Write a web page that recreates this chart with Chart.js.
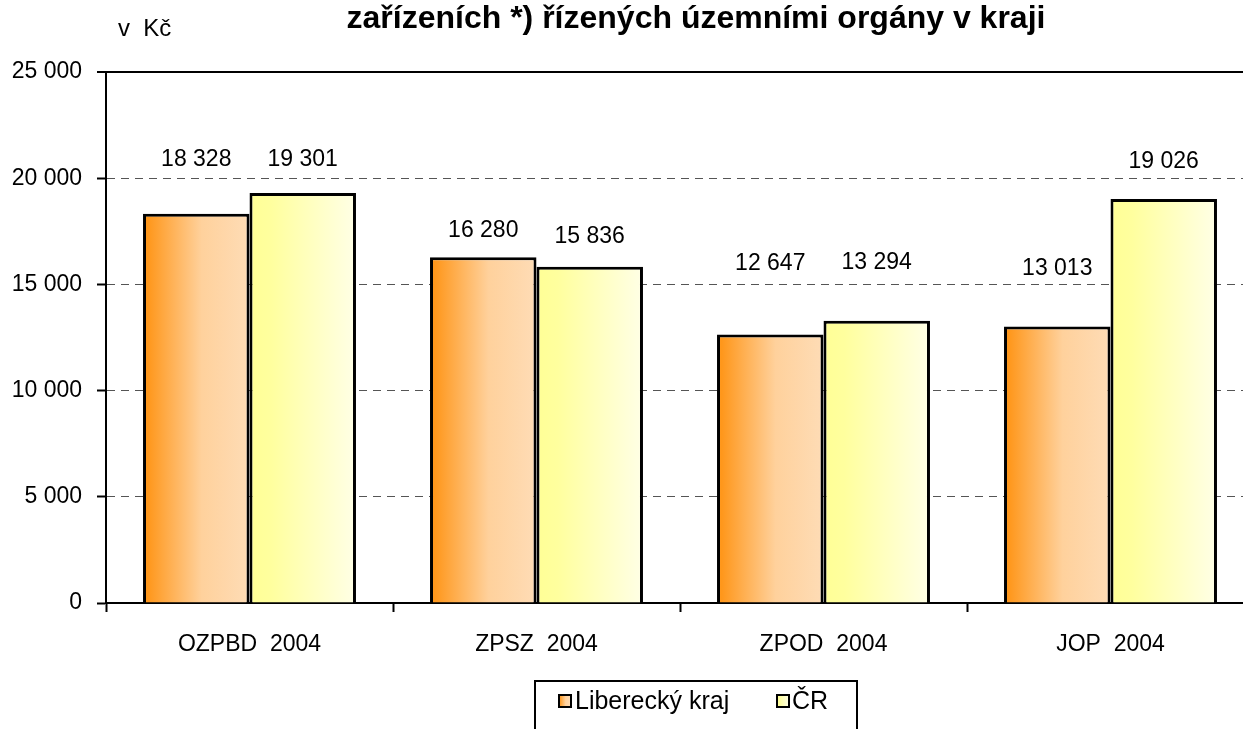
<!DOCTYPE html>
<html>
<head>
<meta charset="utf-8">
<script src="https://cdn.jsdelivr.net/npm/chart.js@4/dist/chart.umd.min.js"></script>
<style>
  html, body { margin: 0; padding: 0; background: #fff; }
  #wrap { width: 1243px; height: 729px; position: relative; }
</style>
</head>
<body>
<div id="wrap"><canvas id="payChart"></canvas></div>
<script>
const categories = ['OZPBD  2004', 'ZPSZ  2004', 'ZPOD  2004', 'JOP  2004'];
const liberecky = [18328, 16280, 12647, 13013];
const cr = [19301, 15836, 13294, 19026];
const yTicks = [0, 5000, 10000, 15000, 20000, 25000];

const seriesNames = ['Liberecký kraj', 'ČR'];
const titleText = 'zařízeních *) řízených územními orgány v kraji';
const unitText = 'v  Kč';

const FONT = "'Liberation Sans', Arial, sans-serif";
const FS = 23;
const CAT_PCT = 0.742;
const PLOT_RIGHT = 1254; // plot area runs a little past the right edge

// label distance above bar top (px), moved by hand in the original
const labelGap = [[54, 33], [27, 30], [71, 58], [58, 37]];

const fills = [
  [[0, '#ff9210'], [0.55, '#ffd19c'], [1, '#fedcb6']],
  [[0, '#ffff96'], [0.2, '#ffff9e'], [1, '#ffffe6']]
];

function fmt(v) {
  return String(v).replace(/\B(?=(\d{3})+(?!\d))/g, ' ');
}

function makeGrad(c, x0, x1, stops) {
  const g = c.createLinearGradient(x0, 0, x1, 0);
  stops.forEach(s => g.addColorStop(s[0], s[1]));
  return g;
}

function barFill(ctx) {
  const ds = ctx.datasetIndex;
  const xs = ctx.chart.scales.x;
  if (ctx.type !== 'data' || !xs || !xs.width) return fills[ds][0][1];
  const center = xs.getPixelForValue(ctx.dataIndex);
  const w = xs.width / categories.length * CAT_PCT / 2;
  const x0 = ds === 0 ? center - w : center;
  return makeGrad(ctx.chart.ctx, x0, x0 + w, fills[ds]);
}

const decor = {
  id: 'decor',
  afterLayout(chart) {
    const xs = chart.scales.x;
    chart.chartArea.right = PLOT_RIGHT;
    chart.chartArea.width = PLOT_RIGHT - chart.chartArea.left;
    xs.right = PLOT_RIGHT;
    xs.width = PLOT_RIGHT - xs.left;
    xs.configure();
  },
  afterDatasetsDraw(chart) {
    const c = chart.ctx;
    c.save();
    c.fillStyle = '#000';
    c.font = FS + 'px ' + FONT;
    c.textAlign = 'center';
    c.textBaseline = 'middle';
    chart.data.datasets.forEach((d, di) => {
      chart.getDatasetMeta(di).data.forEach((bar, i) => {
        c.fillText(fmt(d.data[i]), bar.x, bar.y - labelGap[i][di]);
      });
    });
    c.restore();
  },
  afterDraw(chart) {
    const c = chart.ctx;
    c.save();
    c.fillStyle = '#000';
    c.textBaseline = 'alphabetic';
    c.textAlign = 'center';
    c.font = 'bold 32px ' + FONT;
    c.fillText(titleText, 696, 28);
    c.textAlign = 'left';
    c.font = '24px ' + FONT;
    c.fillText(unitText, 118, 36);

    // legend box
    c.lineWidth = 2;
    c.strokeStyle = '#000';
    c.strokeRect(535, 681, 322, 60);
    const items = [[559, 575], [777, 792]];
    c.font = '25px ' + FONT;
    c.textBaseline = 'middle';
    items.forEach((it, k) => {
      c.fillStyle = makeGrad(c, it[0], it[0] + 12, fills[k]);
      c.fillRect(it[0], 695, 12, 12);
      c.lineWidth = 2;
      c.strokeRect(it[0], 695, 12, 12);
      c.fillStyle = '#000';
      c.fillText(seriesNames[k], it[1], 702);
    });
    c.restore();
  }
};

new Chart(document.getElementById('payChart'), {
  type: 'bar',
  data: {
    labels: categories,
    datasets: [
      {
        label: seriesNames[0],
        data: liberecky,
        backgroundColor: barFill,
        borderColor: '#000',
        borderWidth: 3,
        borderSkipped: 'bottom'
      },
      {
        label: seriesNames[1],
        data: cr,
        backgroundColor: barFill,
        borderColor: '#000',
        borderWidth: 3,
        borderSkipped: 'bottom'
      }
    ]
  },
  options: {
    responsive: true,
    maintainAspectRatio: false,
    animation: false,
    events: [],
    categoryPercentage: CAT_PCT,
    barPercentage: 1,
    layout: { autoPadding: false, padding: { top: 72, left: 0, right: 0, bottom: 0 } },
    plugins: {
      legend: { display: false },
      tooltip: { enabled: false }
    },
    scales: {
      x: {
        afterFit(s) { s.height = 126; },
        grid: {
          offset: true,
          drawOnChartArea: false,
          drawTicks: true,
          tickLength: 9,
          tickColor: '#000',
          tickWidth: 2
        },
        border: { color: '#000', width: 2 },
        ticks: { color: '#000', padding: 19, font: { family: FONT, size: FS } }
      },
      y: {
        min: 0,
        max: 25000,
        afterFit(s) { s.width = 106; },
        afterBuildTicks(s) { s.ticks = yTicks.map(v => ({ value: v })); },
        grid: {
          color: ctx => ctx.tick && ctx.tick.value === 25000 ? '#000' : '#555',
          lineWidth: ctx => ctx.tick && ctx.tick.value === 25000 ? 2 : 1,
          tickLength: 9,
          tickColor: '#000',
          tickWidth: 2
        },
        border: {
          color: '#000',
          width: 2,
          dash: ctx => ctx.tick && ctx.tick.value === 25000 ? [] : [8, 6]
        },
        ticks: {
          color: '#000',
          padding: 15,
          font: { family: FONT, size: FS },
          callback: v => fmt(v)
        }
      }
    }
  },
  plugins: [decor]
});
</script>
</body>
</html>
